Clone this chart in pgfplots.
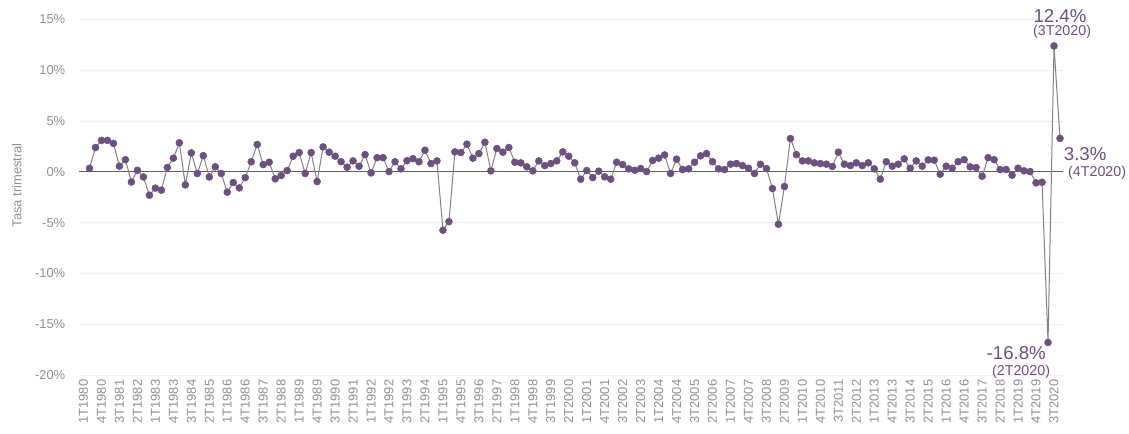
\documentclass[border=0pt]{standalone}
\usepackage{pgfplots}
\pgfplotsset{compat=1.18}
\usepackage{fontspec}
\setmainfont{Liberation Sans}
\definecolor{pur}{RGB}{108,80,128}
\definecolor{lgray}{RGB}{130,130,130}
\definecolor{tgray}{RGB}{145,145,145}
\definecolor{gridc}{RGB}{240,240,240}
\definecolor{zline}{RGB}{95,95,95}
\begin{document}
\begin{tikzpicture}
\begin{axis}[
  scale only axis, width=738pt, height=266.6pt,
  xmin=-0.75, xmax=163.5, ymin=-20, ymax=15,
  axis line style={draw=none},
  major tick length=0pt,
  ytick={-20,-15,-10,-5,0,5,10,15},
  yticklabels={-20\%,-15\%,-10\%,-5\%,0\%,5\%,10\%,15\%},
  ymajorgrids, grid style={gridc, line width=0.75pt},
  xtick={0,3,...,162},
  xticklabels={1T1980,4T1980,3T1981,2T1982,1T1983,4T1983,3T1984,2T1985,1T1986,4T1986,3T1987,2T1988,1T1989,4T1989,3T1990,2T1991,1T1992,4T1992,3T1993,2T1994,1T1995,4T1995,3T1996,2T1997,1T1998,4T1998,3T1999,2T2000,1T2001,4T2001,3T2002,2T2003,1T2004,4T2004,3T2005,2T2006,1T2007,4T2007,3T2008,2T2009,1T2010,4T2010,3T2011,2T2012,1T2013,4T2013,3T2014,2T2015,1T2016,4T2016,3T2017,2T2018,1T2019,4T2019,3T2020},
  xticklabel style={rotate=90, anchor=east, font=\fontsize{9.7}{11}\selectfont, text=tgray},
  yticklabel style={font=\fontsize{9.7}{11}\selectfont, text=tgray, xshift=-6.8pt},
  clip=false,
]
\addplot[zline, line width=0.9pt, forget plot] coordinates {(-0.75,0) (163.5,0)};
\addplot[color=lgray, line width=0.75pt, mark=*, mark size=2.6pt,
  mark options={fill=pur, draw=pur, line width=0.4pt, solid}] coordinates {
(1,0.35) (2,2.4) (3,3.1) (4,3.1) (5,2.8) (6,0.56) (7,1.2) (8,-1.0) (9,0.16) (10,-0.5)
(11,-2.3) (12,-1.6) (13,-1.8) (14,0.43) (15,1.35) (16,2.86) (17,-1.28) (18,1.87) (19,-0.16) (20,1.6)
(21,-0.5) (22,0.5) (23,-0.16) (24,-2.0) (25,-1.05) (26,-1.58) (27,-0.56) (28,1.0) (29,2.7) (30,0.72)
(31,0.95) (32,-0.69) (33,-0.36) (34,0.13) (35,1.54) (36,1.9) (37,-0.16) (38,1.9) (39,-0.95) (40,2.46)
(41,1.94) (42,1.54) (43,1.0) (44,0.46) (45,1.08) (46,0.56) (47,1.7) (48,-0.1) (49,1.4) (50,1.4)
(51,0.03) (52,1.0) (53,0.3) (54,1.1) (55,1.3) (56,1.0) (57,2.13) (58,0.82) (59,1.08) (60,-5.75)
(61,-4.9) (62,1.97) (63,1.9) (64,2.73) (65,1.35) (66,1.8) (67,2.92) (68,0.1) (69,2.3) (70,1.94)
(71,2.4) (72,0.95) (73,0.89) (74,0.5) (75,0.1) (76,1.08) (77,0.62) (78,0.82) (79,1.08) (80,1.97)
(81,1.54) (82,0.89) (83,-0.72) (84,0.13) (85,-0.56) (86,0.07) (87,-0.49) (88,-0.72) (89,0.95) (90,0.72)
(91,0.3) (92,0.16) (93,0.33) (94,0.03) (95,1.12) (96,1.35) (97,1.67) (98,-0.16) (99,1.25) (100,0.23)
(101,0.3) (102,0.95) (103,1.58) (104,1.8) (105,1.0) (106,0.3) (107,0.23) (108,0.76) (109,0.82) (110,0.62)
(111,0.36) (112,-0.16) (113,0.75) (114,0.33) (115,-1.64) (116,-5.16) (117,-1.44) (118,3.28) (119,1.7) (120,1.08)
(121,1.08) (122,0.89) (123,0.82) (124,0.76) (125,0.53) (126,1.94) (127,0.76) (128,0.62) (129,0.89) (130,0.62)
(131,0.89) (132,0.3) (133,-0.72) (134,1.0) (135,0.56) (136,0.76) (137,1.28) (138,0.36) (139,1.08) (140,0.56)
(141,1.18) (142,1.15) (143,-0.23) (144,0.56) (145,0.36) (146,1.0) (147,1.2) (148,0.49) (149,0.43) (150,-0.43)
(151,1.4) (152,1.2) (153,0.23) (154,0.23) (155,-0.33) (156,0.36) (157,0.1) (158,0.03) (159,-1.08) (160,-1.02)
(161,-16.8) (162,12.4) (163,3.3)
};
\node[text=pur, font=\fontsize{14}{16}\selectfont] at (axis cs:163.0,15.34) {12.4\%};
\node[text=pur, font=\fontsize{10.7}{12}\selectfont] at (axis cs:163.35,13.76) {(3T2020)};
\node[text=pur, font=\fontsize{14}{16}\selectfont] at (axis cs:167.2,1.74) {3.3\%};
\node[text=pur, font=\fontsize{10.7}{12}\selectfont] at (axis cs:169.2,-0.1) {(4T2020)};
\node[text=pur, font=\fontsize{14}{16}\selectfont] at (axis cs:155.7,-17.83) {-16.8\%};
\node[text=pur, font=\fontsize{10.7}{12}\selectfont] at (axis cs:156.5,-19.7) {(2T2020)};
\node[rotate=90, text=tgray, font=\fontsize{9.7}{11}\selectfont] at (axis description cs:-0.0633,0.534) {Tasa trimestral};
\end{axis}
\pgfresetboundingbox
\path (-59.25pt,-43.5pt) rectangle (787.5pt,281.25pt);
\end{tikzpicture}
\end{document}
